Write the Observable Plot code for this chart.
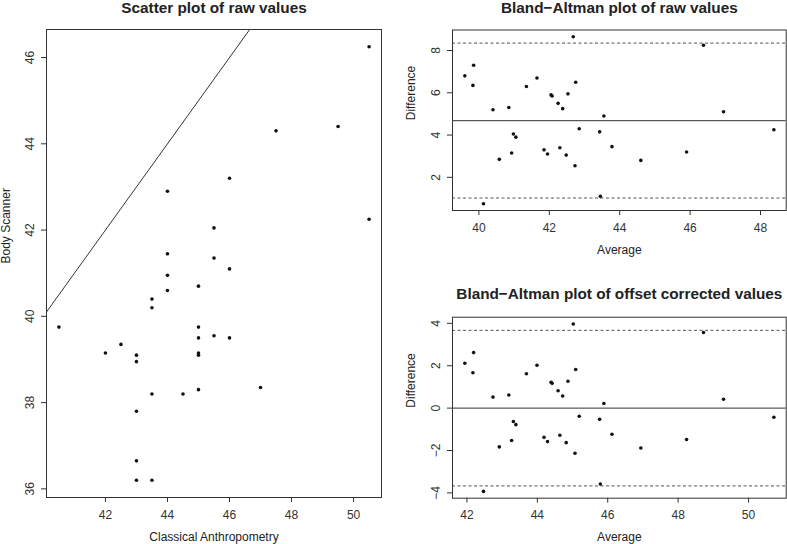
<!DOCTYPE html>
<html><head><meta charset="utf-8">
<script src="https://cdn.jsdelivr.net/npm/d3@7"></script>
<script src="https://cdn.jsdelivr.net/npm/@observablehq/plot@0.6"></script>
<style>
html,body{margin:0;padding:0;background:#fff;}
#chart{position:relative;width:787px;height:544px;overflow:hidden;font-family:"Liberation Sans",Arial,sans-serif;}
#chart > div{position:absolute;}
</style></head><body><div id="chart"></div>
<script>
// ---- Scatter plot of raw values ----
const anthropometry = [50.5, 47.5, 49.5, 46, 44, 50.5, 45.5, 44, 45.5, 46, 44, 45, 44, 43.5, 43.5, 40.5, 45, 45, 45.5, 46, 42.5, 42, 43, 43, 45, 45, 43.5, 44.5, 45, 47, 43, 43, 43, 43.5];
const bodyScanner = [46.25, 44.3, 44.4, 43.2, 42.9, 42.25, 42.05, 41.45, 41.35, 41.1, 40.95, 40.7, 40.6, 40.4, 40.2, 39.75, 39.75, 39.5, 39.55, 39.5, 39.35, 39.15, 39.1, 38.95, 39.15, 39.1, 38.2, 38.2, 38.3, 38.35, 37.8, 36.65, 36.2, 36.2];
const scatterXTicks = [42, 44, 46, 48, 50];
const scatterYTicks = [36, 38, 40, 42, 44, 46];
const scatterXDomain = [40.1, 50.9];
const scatterYDomain = [35.8, 46.65];
const identityRange = [30, 60];

// ---- Bland-Altman plot of raw values ----
const rawAverage = [48.38, 45.9, 46.95, 44.6, 43.45, 46.38, 43.78, 42.73, 43.43, 43.55, 42.48, 42.85, 42.3, 41.95, 41.85, 40.13, 42.38, 42.25, 42.53, 42.75, 40.93, 40.58, 41.05, 40.98, 42.08, 42.05, 40.85, 41.35, 41.65, 42.68, 40.4, 39.83, 39.6, 39.85];
const rawDifference = [4.25, 3.2, 5.1, 2.8, 1.1, 8.25, 3.45, 2.55, 4.15, 4.9, 3.05, 4.3, 3.4, 3.1, 3.3, 0.75, 5.25, 5.5, 5.95, 6.5, 3.15, 2.85, 3.9, 4.05, 5.85, 5.9, 5.3, 6.3, 6.7, 8.65, 5.2, 6.35, 6.8, 7.3];
const rawMean = 4.68;
const rawLimits = [1.02, 8.35];
const rawXTicks = [40, 42, 44, 46, 48];
const rawYTicks = [2, 4, 6, 8];
const rawXDomain = [39.25, 48.73];
const rawYDomain = [0.43, 8.97];

// ---- Bland-Altman plot of offset corrected values ----
const corrAverage = [50.72, 48.24, 49.29, 46.94, 45.79, 48.72, 46.12, 45.07, 45.77, 45.89, 44.82, 45.19, 44.64, 44.29, 44.19, 42.47, 44.72, 44.59, 44.87, 45.09, 43.27, 42.92, 43.39, 43.32, 44.42, 44.39, 43.19, 43.69, 43.99, 45.02, 42.74, 42.17, 41.94, 42.19];
const corrDifference = [-0.43, -1.48, 0.42, -1.88, -3.58, 3.57, -1.23, -2.13, -0.53, 0.22, -1.63, -0.38, -1.28, -1.58, -1.38, -3.93, 0.57, 0.82, 1.27, 1.82, -1.53, -1.83, -0.78, -0.63, 1.17, 1.22, 0.62, 1.62, 2.02, 3.97, 0.52, 1.67, 2.12, 2.62];
const corrMean = 0;
const corrLimits = [-3.67, 3.67];
const corrXTicks = [42, 44, 46, 48, 50];
const corrYTicks = [-4, -2, 0, 2, 4];
const corrXDomain = [41.59, 51.07];
const corrYDomain = [-4.25, 4.29];

const FONT = '"Liberation Sans", Arial, Helvetica, sans-serif';
const INK = "#333";

function panel(o) {
  const data = o.x.map((v, i) => ({x: v, y: o.y[i]}));
  return Plot.plot({
    width: o.width, height: o.height,
    marginTop: o.mt, marginRight: o.mr, marginBottom: o.mb, marginLeft: o.ml,
    style: {fontFamily: FONT, fontSize: "12px", color: INK, background: "transparent", overflow: "visible"},
    x: {domain: o.xDomain},
    y: {domain: o.yDomain},
    marks: [
      ...(o.extra || []),
      Plot.frame({stroke: INK, strokeWidth: 1}),
      Plot.axisX({ticks: o.xTicks, tickSize: 5, tickPadding: 7.5, label: null}),
      Plot.axisY({ticks: o.yTicks, tickSize: 5, tickPadding: 7.5, tickRotate: -90, label: null}),
      Plot.dot(data, {x: "x", y: "y", r: 1.8, fill: "#111", stroke: null}),
      Plot.text([o.title], {text: d => d, frameAnchor: "top", dy: o.titleDy, lineAnchor: "middle", fontWeight: "bold", fontSize: 15.3, fill: "#222"}),
      Plot.text([o.xLabel], {text: d => d, frameAnchor: "bottom", dy: o.xLabelDy, lineAnchor: "top", fill: "#222"}),
      Plot.text([o.yLabel], {text: d => d, frameAnchor: "left", dx: o.yLabelDx, rotate: -90, lineAnchor: "top", fill: "#222"})
    ]
  });
}

function place(node, left, top) {
  const wrap = document.createElement("div");
  wrap.style.left = left + "px";
  wrap.style.top = top + "px";
  wrap.appendChild(node);
  document.getElementById("chart").appendChild(wrap);
}

place(panel({
  width: 400, height: 544, mt: 29, mr: 19, mb: 47, ml: 46,
  x: anthropometry, y: bodyScanner,
  xDomain: scatterXDomain, yDomain: scatterYDomain,
  xTicks: scatterXTicks, yTicks: scatterYTicks,
  title: "Scatter plot of raw values", titleDy: -21.5,
  xLabel: "Classical Anthropometry", xLabelDy: 35,
  yLabel: "Body Scanner", yLabelDx: -45.5,
  extra: [
    Plot.link([identityRange], {x1: d => d[0], y1: d => d[0], x2: d => d[1], y2: d => d[1], stroke: INK, strokeWidth: 1, clip: true})
  ]
}), 0, 0);

place(panel({
  width: 387, height: 262, mt: 29.5, mr: 1.3, mb: 52, ml: 52,
  x: rawAverage, y: rawDifference,
  xDomain: rawXDomain, yDomain: rawYDomain,
  xTicks: rawXTicks, yTicks: rawYTicks,
  title: "Bland\u2212Altman plot of raw values", titleDy: -22,
  xLabel: "Average", xLabelDy: 35,
  yLabel: "Difference", yLabelDx: -46,
  extra: [
    Plot.ruleY([rawMean], {stroke: INK, strokeWidth: 1}),
    Plot.ruleY(rawLimits, {stroke: "#555", strokeWidth: 1, strokeDasharray: "3,2.5"})
  ]
}), 400, 0);

place(panel({
  width: 387, height: 264, mt: 36.7, mr: 1.3, mb: 46.3, ml: 52,
  x: corrAverage, y: corrDifference,
  xDomain: corrXDomain, yDomain: corrYDomain,
  xTicks: corrXTicks, yTicks: corrYTicks,
  title: "Bland\u2212Altman plot of offset corrected values", titleDy: -22.7,
  xLabel: "Average", xLabelDy: 34,
  yLabel: "Difference", yLabelDx: -46,
  extra: [
    Plot.ruleY([corrMean], {stroke: INK, strokeWidth: 1}),
    Plot.ruleY(corrLimits, {stroke: "#555", strokeWidth: 1, strokeDasharray: "3,2.5"})
  ]
}), 400, 280);
</script>
</body></html>
